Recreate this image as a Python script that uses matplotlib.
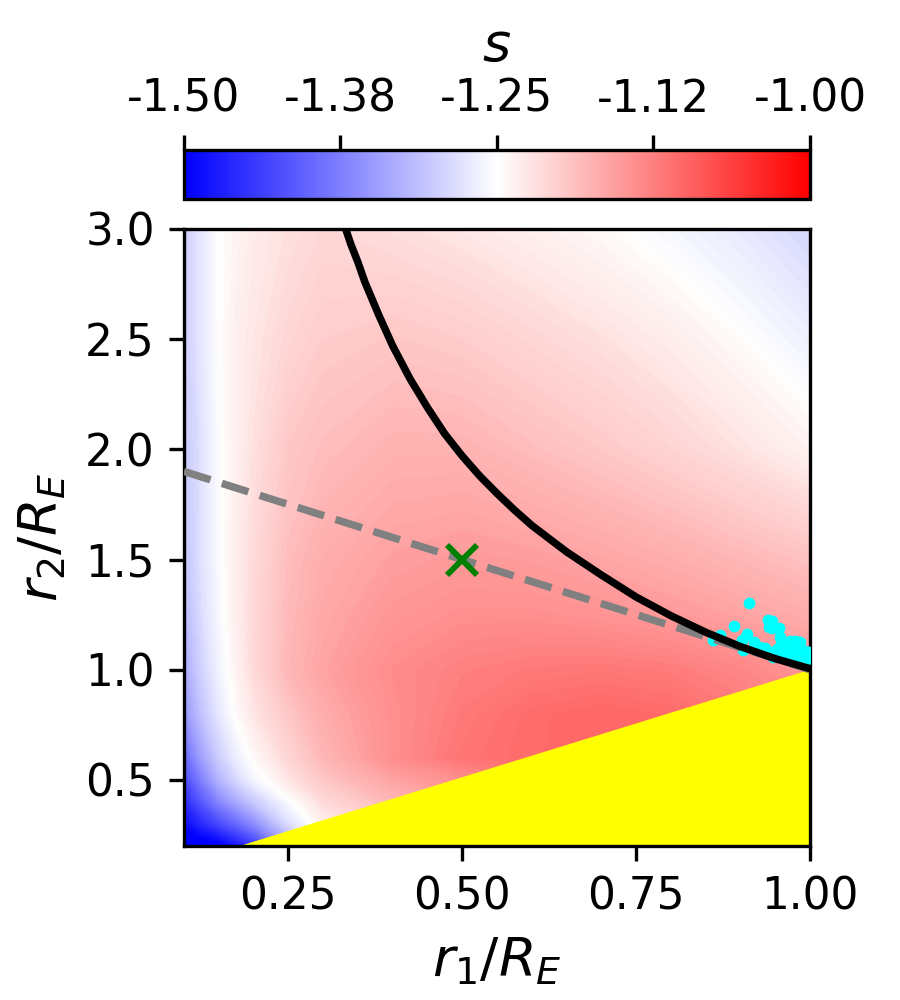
import numpy as np
import matplotlib
matplotlib.use("Agg")
import matplotlib.pyplot as plt
from matplotlib.colors import Normalize
from matplotlib.cm import ScalarMappable

# ---------- s(r1, r2) ----------
r1_grid = [0.10, 0.125, 0.15, 0.175, 0.20, 0.25, 0.30, 0.40, 0.50, 0.60, 0.70, 0.80, 0.90, 1.00]
r2_grid = [0.20, 0.30, 0.40, 0.50, 0.60, 0.80, 1.00, 1.25, 1.50, 2.00, 2.50, 3.00]

s_r2_020 = [-1.53, -1.52, -1.51, -1.48, -1.45, -1.35, -1.27, -1.22, -1.18, -1.16, -1.15, -1.15, -1.15, -1.15]
s_r2_030 = [-1.49, -1.46, -1.43, -1.40, -1.365, -1.285, -1.235, -1.20, -1.18, -1.16, -1.15, -1.15, -1.15, -1.15]
s_r2_040 = [-1.46, -1.415, -1.37, -1.335, -1.305, -1.255, -1.215, -1.18, -1.16, -1.15, -1.14, -1.14, -1.14, -1.14]
s_r2_050 = [-1.43, -1.375, -1.325, -1.29, -1.262, -1.225, -1.195, -1.16, -1.14, -1.13, -1.12, -1.12, -1.125, -1.13]
s_r2_060 = [-1.40, -1.345, -1.30, -1.268, -1.245, -1.21, -1.18, -1.14, -1.115, -1.105, -1.10, -1.11, -1.12, -1.13]
s_r2_080 = [-1.355, -1.31, -1.275, -1.247, -1.225, -1.195, -1.17, -1.14, -1.12, -1.106, -1.10, -1.105, -1.12, -1.135]
s_r2_100 = [-1.335, -1.295, -1.263, -1.238, -1.215, -1.18, -1.16, -1.137, -1.126, -1.12, -1.118, -1.122, -1.132, -1.147]
s_r2_125 = [-1.32, -1.285, -1.258, -1.233, -1.213, -1.183, -1.165, -1.148, -1.14, -1.14, -1.145, -1.152, -1.16, -1.17]
s_r2_150 = [-1.31, -1.28, -1.255, -1.232, -1.215, -1.186, -1.17, -1.157, -1.152, -1.155, -1.162, -1.17, -1.18, -1.19]
s_r2_200 = [-1.305, -1.28, -1.252, -1.235, -1.22, -1.195, -1.186, -1.176, -1.176, -1.186, -1.196, -1.208, -1.222, -1.238]
s_r2_250 = [-1.30, -1.275, -1.25, -1.235, -1.225, -1.21, -1.20, -1.195, -1.20, -1.21, -1.22, -1.232, -1.247, -1.265]
s_r2_300 = [-1.30, -1.275, -1.25, -1.24, -1.23, -1.22, -1.212, -1.218, -1.226, -1.235, -1.245, -1.258, -1.273, -1.29]

# ---------- curves / markers ----------
curve_r1 = [0.3325, 0.34, 0.35, 0.36, 0.38, 0.40, 0.425, 0.45, 0.475, 0.50, 0.525, 0.55, 0.575,
            0.60, 0.65, 0.70, 0.75, 0.80, 0.85, 0.90, 0.95, 1.00]
curve_r2 = [3.00, 2.93, 2.85, 2.76, 2.61, 2.47, 2.32, 2.19, 2.07, 1.97, 1.88, 1.80, 1.725,
            1.655, 1.535, 1.43, 1.33, 1.245, 1.17, 1.105, 1.05, 1.005]

dash_r1 = [0.10, 1.00]
dash_r2 = [1.90, 1.00]

forbidden_r1 = [0.18, 1.00, 1.00]
forbidden_r2 = [0.20, 1.00, 0.20]

best_r1 = [0.50]
best_r2 = [1.50]

pts_r1 = [0.913, 0.891, 0.939, 0.946, 0.941, 0.945, 0.956, 0.910, 0.871, 0.902, 0.861,
          0.919, 0.957, 0.959, 0.971, 0.978, 0.986, 0.928, 0.935, 0.904, 0.952, 0.966,
          0.981, 0.993, 0.998, 0.942, 0.957, 0.971, 0.986, 0.947, 0.964, 0.981, 0.995, 0.995]
pts_r2 = [1.303, 1.197, 1.227, 1.220, 1.192, 1.188, 1.188, 1.162, 1.159, 1.135, 1.135,
          1.127, 1.147, 1.117, 1.132, 1.132, 1.124, 1.105, 1.099, 1.090, 1.094, 1.094,
          1.101, 1.086, 1.079, 1.079, 1.071, 1.071, 1.064, 1.056, 1.056, 1.056, 1.056, 1.049]

s_ticks = [-1.50, -1.375, -1.25, -1.125, -1.00]

# ---------- Figure ----------
fig = plt.figure(figsize=(3, 10 / 3), dpi=300)
ax = fig.add_axes([0.2044, 0.154, 0.6956, 0.617])
cax = fig.add_axes([0.2044, 0.801, 0.6956, 0.049])

s_grid = np.array([s_r2_020, s_r2_030, s_r2_040, s_r2_050, s_r2_060, s_r2_080,
                   s_r2_100, s_r2_125, s_r2_150, s_r2_200, s_r2_250, s_r2_300])
norm = Normalize(vmin=-1.5, vmax=-1.0)
ax.contourf(r1_grid, r2_grid, s_grid, levels=np.linspace(-1.5, -1.0, 121),
            cmap='bwr', norm=norm, extend='both', zorder=1)

ax.fill(forbidden_r1, forbidden_r2, color='yellow', lw=0, zorder=2)
ax.scatter(pts_r1, pts_r2, s=8, color='cyan', lw=0, zorder=3)
ax.plot(dash_r1, dash_r2, '--', color='gray', lw=1.8, zorder=4)
ax.plot(curve_r1, curve_r2, color='black', lw=1.8, zorder=5)
ax.plot(best_r1, best_r2, 'x', color='green', ms=7, mew=1.4, zorder=6)

ax.set_xlim(0.1, 1.0)
ax.set_ylim(0.2, 3.0)
ax.set_xticks([0.25, 0.50, 0.75, 1.00])
ax.set_yticks([0.5, 1.0, 1.5, 2.0, 2.5, 3.0])
ax.tick_params(labelsize=10.5)
ax.set_xlabel('$r_1/R_E$', fontsize=13)
ax.set_ylabel('$r_2/R_E$', fontsize=13)

cbar = fig.colorbar(ScalarMappable(norm=norm, cmap='bwr'), cax=cax,
                    orientation='horizontal', ticks=s_ticks, format='%.2f')
cax.xaxis.set_ticks_position('top')
cax.xaxis.set_label_position('top')
cax.tick_params(labelsize=10.5)
cbar.set_label('$s$', fontsize=13)

fig.savefig('out.png', dpi=300)
